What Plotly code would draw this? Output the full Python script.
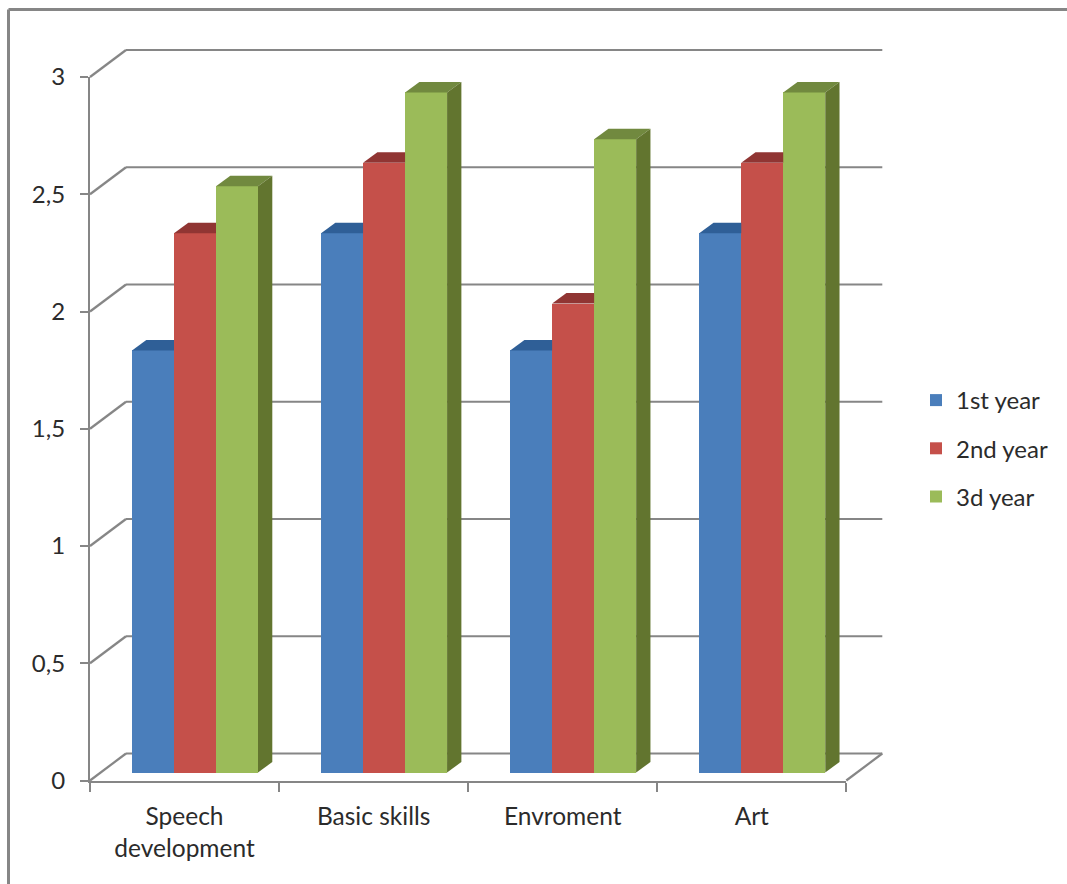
import plotly.graph_objects as go

# ---- data ----
categories = ["Speech<br>development", "Basic skills", "Envroment", "Art"]
series_names = ["1st year", "2nd year", "3d year"]
year1 = [1.8, 2.3, 1.8, 2.3]
year2 = [2.3, 2.6, 2.0, 2.6]
year3 = [2.5, 2.9, 2.7, 2.9]
y_ticks = [0, 0.5, 1, 1.5, 2, 2.5, 3]
y_tick_labels = ["0", "0,5", "1", "1,5", "2", "2,5", "3"]

# ---- styling / layout constants ----
W, H = 1067, 884
PX_L, PX_R, PX_T, PX_B = 90, 846.3, 77, 780.5
front = ["#4A7EBB", "#C5504A", "#9BBB59"]
top = ["#2F5F97", "#903533", "#71893F"]
side = [None, None, "#62752F"]
GRID = "#868686"
TXT = "#2b2b2b"
FONT = "Lato"

x_unit = (PX_R - PX_L) / 4          # px per category
y_unit = (PX_B - PX_T) / 3          # px per value unit
BAR_W = 42 / x_unit
BAR_START = 42 / x_unit
BASE = 8 / y_unit
DEPTH_X, DEPTH_Y = 14.3 / x_unit, 10.5 / y_unit
WALL_DX, WALL_DY = 36, 27


def paper_x(v):
    return (PX_L + v * x_unit) / W


def paper_y(v):
    return 1 - (PX_B - v * y_unit) / H


fig = go.Figure()
all_series = [year1, year2, year3]

for s, (name, vals) in enumerate(zip(series_names, all_series)):
    xs = [i + BAR_START + (s + 0.5) * BAR_W for i in range(len(vals))]
    fig.add_trace(go.Bar(
        x=xs, y=vals, base=BASE, width=BAR_W, name=name, legendgroup=name,
        marker=dict(color=front[s], line=dict(width=0)),
    ))

# 3-D faces derived from the values
for s, vals in enumerate(all_series):
    last = s == len(all_series) - 1
    for i, v in enumerate(vals):
        x0 = i + BAR_START + s * BAR_W
        x1 = x0 + BAR_W
        yt = v + BASE
        if last:
            px = [x0, x0 + DEPTH_X, x1 + DEPTH_X, x1, x0]
            py = [yt, yt + DEPTH_Y, yt + DEPTH_Y, yt, yt]
        else:
            px = [x0, x0 + DEPTH_X, x1, x1, x0]
            py = [yt, yt + DEPTH_Y, yt + DEPTH_Y, yt, yt]
        fig.add_trace(go.Scatter(
            x=px, y=py, mode="lines", fill="toself", fillcolor=top[s],
            line=dict(width=0), showlegend=False, hoverinfo="skip",
            cliponaxis=False))
        if last:
            fig.add_trace(go.Scatter(
                x=[x1, x1 + DEPTH_X, x1 + DEPTH_X, x1, x1],
                y=[yt, yt + DEPTH_Y, BASE + DEPTH_Y, BASE, yt],
                mode="lines", fill="toself", fillcolor=side[s],
                line=dict(width=0), showlegend=False, hoverinfo="skip",
                cliponaxis=False))

# walls and outer frame
shapes = []
line = dict(color=GRID, width=2.2)
for t in y_ticks:
    xa, ya = paper_x(0), paper_y(t)
    xb, yb = xa + WALL_DX / W, ya + WALL_DY / H
    xc = paper_x(4) + WALL_DX / W
    shapes.append(dict(type="line", xref="paper", yref="paper", layer="below",
                       x0=xa, y0=ya, x1=xb, y1=yb, line=line))
    shapes.append(dict(type="line", xref="paper", yref="paper", layer="below",
                       x0=xb, y0=yb, x1=xc, y1=yb, line=line))
shapes.append(dict(type="line", xref="paper", yref="paper", layer="below",
                   x0=paper_x(4), y0=paper_y(0),
                   x1=paper_x(4) + WALL_DX / W, y1=paper_y(0) + WALL_DY / H,
                   line=line))
frame = dict(color="#868686", width=3)
shapes.append(dict(type="line", xref="paper", yref="paper", layer="below",
                   x0=8.5 / W, y0=0, x1=8.5 / W, y1=1 - 9.5 / H, line=frame))
shapes.append(dict(type="line", xref="paper", yref="paper", layer="below",
                   x0=8.5 / W, y0=1 - 9.5 / H, x1=1, y1=1 - 9.5 / H, line=frame))

fig.update_layout(
    width=W, height=H,
    margin=dict(l=0, r=0, t=0, b=0, autoexpand=False),
    paper_bgcolor="white", plot_bgcolor="rgba(0,0,0,0)",
    barmode="overlay", bargap=0,
    font=dict(family=FONT, size=24, color=TXT),
    shapes=shapes,
    legend=dict(
        x=916 / W, y=1 - 378 / H, xanchor="left", yanchor="top",
        traceorder="grouped", tracegroupgap=14,
        font=dict(family=FONT, size=24, color=TXT),
        bgcolor="rgba(0,0,0,0)", itemclick=False,
    ),
    xaxis=dict(
        domain=[PX_L / W, PX_R / W], range=[0, 4], type="linear",
        tickmode="array", tickvals=[i + 0.5 for i in range(4)], ticktext=categories,
        tickfont=dict(family=FONT, size=24.5, color=TXT),
        ticks="", showgrid=False, zeroline=False,
        showline=True, linecolor=GRID, linewidth=2.2,
        ticklabelstandoff=13,
        minor=dict(tickmode="array", tickvals=[0, 1, 2, 3, 4], ticks="outside",
                   ticklen=9, tickwidth=2.2, tickcolor=GRID, showgrid=False),
    ),
    yaxis=dict(
        domain=[1 - PX_B / H, 1 - PX_T / H], range=[0, 3],
        tickmode="array", tickvals=y_ticks, ticktext=y_tick_labels,
        ticks="outside", ticklen=8, tickwidth=2.2, tickcolor=GRID,
        showgrid=False, zeroline=False,
        showline=True, linecolor=GRID, linewidth=2.2,
        ticklabelstandoff=10,
    ),
)

fig.write_html("out.html", config={"displayModeBar": False},
               post_script="document.body.style.margin='0';")
